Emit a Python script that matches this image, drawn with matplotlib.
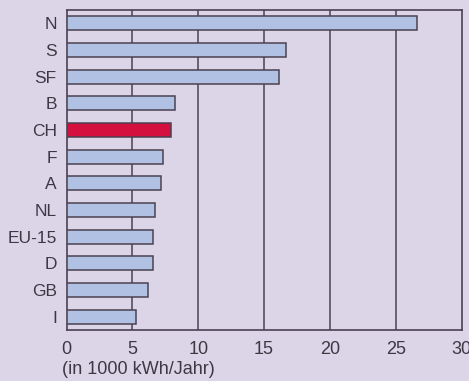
import matplotlib
matplotlib.use("Agg")
import matplotlib.pyplot as plt

countries = ["N", "S", "SF", "B", "CH", "F", "A", "NL", "EU-15", "D", "GB", "I"]
values = [26.6, 16.65, 16.1, 8.2, 7.9, 7.35, 7.2, 6.7, 6.6, 6.55, 6.2, 5.3]
highlight = "CH"
xticks = [0, 5, 10, 15, 20, 25, 30]
xlabel = "(in 1000 kWh/Jahr)"

bg = "#dcd5e8"
line = "#4a4252"
blue = "#b1c1e3"
red = "#d4103f"
text = "#3c3844"

plt.rcParams['font.family'] = ['Liberation Sans', 'DejaVu Sans']

fig = plt.figure(figsize=(4.69, 3.81), dpi=100, facecolor=bg)
ax = fig.add_axes([66.5/469, 1 - 330/381, (461.7-66.5)/469, 320/381])
ax.set_facecolor(bg)

n = len(countries)
ypos = list(range(n))[::-1]
colors = [red if c == highlight else blue for c in countries]
ax.barh(ypos, values, height=0.52, color=colors, edgecolor=line, linewidth=1.1, zorder=3)

ax.set_xlim(0, 30)
ax.set_ylim(-0.5, n - 0.5)
ax.set_xticks(xticks)
ax.set_xticklabels([str(t) for t in xticks])
ax.set_yticks(ypos)
ax.set_yticklabels(countries)
ax.tick_params(length=0, labelsize=12.5, colors=text, pad=7)
ax.tick_params(axis='x', labelsize=13, pad=8)
for t in xticks[1:-1]:
    ax.axvline(t, color=line, linewidth=1.1, zorder=1)
for s in ax.spines.values():
    s.set_color(line)
    s.set_linewidth(1.2)

fig.text(62/469, 1 - 370/381, xlabel, fontsize=13, color=text, ha='left', va='center')

fig.savefig("out.png", dpi=100, facecolor=bg)
